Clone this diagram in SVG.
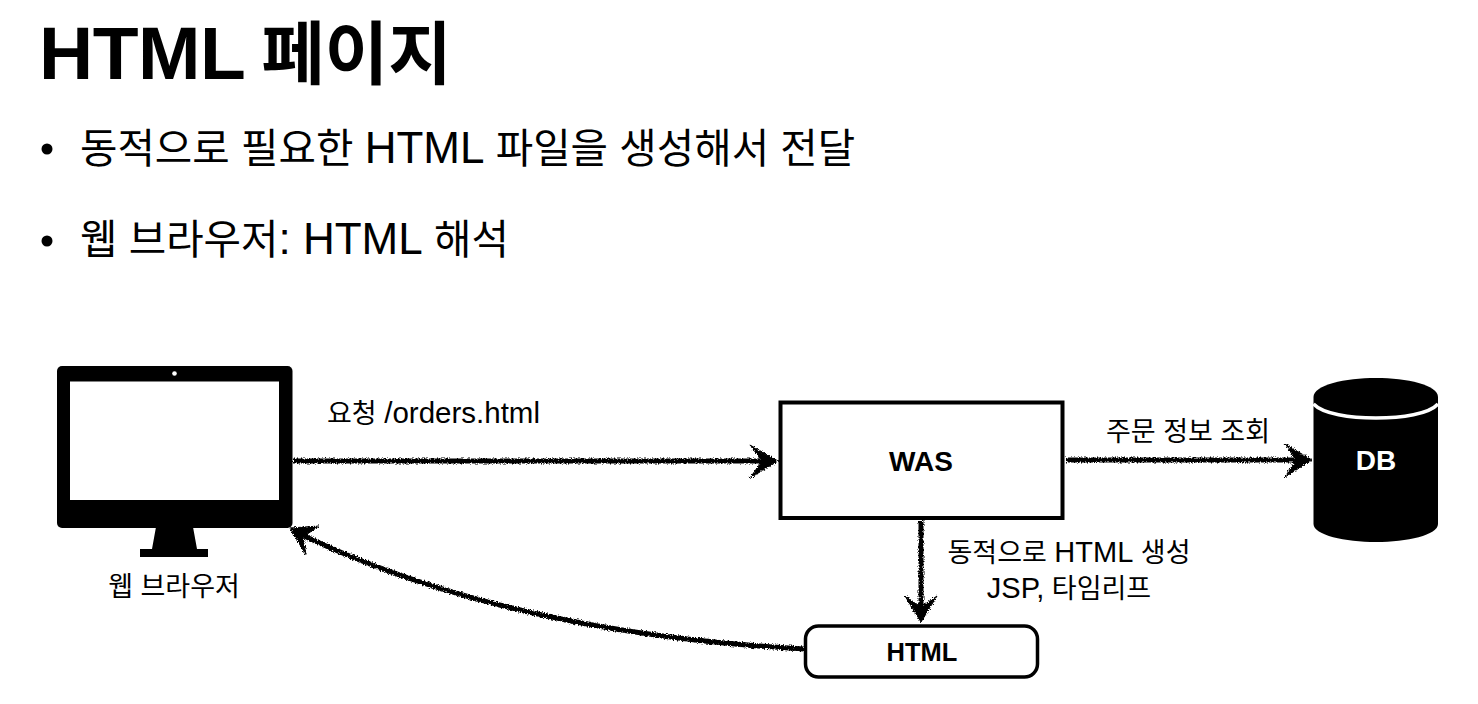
<svg xmlns="http://www.w3.org/2000/svg" width="1478" height="704" viewBox="0 0 1478 704">
<style>
text{font-family:"Liberation Sans","Noto Sans CJK KR",sans-serif;fill:#000}
.t{font-size:27px;text-anchor:middle}
.t .l{font-size:29px}
.t .o{font-size:29.500px}
.b{font-size:40.700px}
.b .l{font-size:44px}
.n{font-weight:bold;text-anchor:middle}
.c{fill:none;stroke:#000;stroke-width:5}
.h{fill:#000;stroke:#000;stroke-width:1}
</style>
<defs>
<filter id="rough" x="-5%" y="-20%" width="110%" height="140%" filterUnits="objectBoundingBox" color-interpolation-filters="sRGB">
<feTurbulence type="fractalNoise" baseFrequency="0.7" numOctaves="2" seed="4"/>
<feDisplacementMap in="SourceGraphic" scale="4.500" xChannelSelector="R" yChannelSelector="G"/>
</filter>
</defs>
<rect width="1478" height="704" fill="#fff"/>
<text id="title" x="39" y="79" font-size="75" font-weight="bold"><tspan letter-spacing="-0.5">HTML </tspan><tspan font-size="69" dx="-3">페이지</tspan></text>
<g id="bullets">
<circle cx="47" cy="149" r="5.500"/><text class="b" x="80" y="163">동적으로 필요한 <tspan class="l">HTML</tspan> 파일을 생성해서 전달</text>
<circle cx="47" cy="241" r="5.500"/><text class="b" x="80" y="254">웹 브라우저<tspan class="l">: HTML</tspan> 해석</text>
</g>
<g id="connectors" filter="url(#rough)">
<path class="c" d="M293 461H765"/><path class="h" d="M750 445L778 461L750 478L762 461Z"/>
<path class="c" d="M1066 460H1300"/><path class="h" d="M1285 444L1312 460L1285 477L1296 460Z"/>
<path class="c" d="M921 521V608"/><path class="h" d="M905 596L921 622L937 596L921 607Z"/>
<path class="c" d="M804 649C640 640 460 610 302 535"/><path class="h" d="M290 528L319 526L303 537L306 555Z"/>
</g>
<g id="browser">
<rect x="57" y="366" width="235.500" height="162" rx="5"/>
<rect x="70" y="381.500" width="209" height="118.500" fill="#fff"/>
<circle cx="174.500" cy="373.500" r="2.300" fill="#fff"/>
<path d="M156 527H193L197 549H208V557H140V549H152Z"/>
<text class="t" x="174" y="596">웹 브라우저</text>
</g>
<g id="was">
<rect x="780.500" y="402.500" width="282" height="115.500" fill="#fff" stroke="#000" stroke-width="4"/>
<text class="n" x="921" y="471" font-size="28">WAS</text>
</g>
<g id="html">
<rect x="805.500" y="626" width="232" height="51" rx="13" fill="#fff" stroke="#000" stroke-width="3.500"/>
<text class="n" x="922" y="661" font-size="25.500">HTML</text>
</g>
<g id="db">
<path d="M1313.500 397C1313.500 385 1345 378 1376 378S1438 385 1438 397V524C1438 535 1407 542 1376 542S1313.500 535 1313.500 524Z"/>
<path d="M1313.500 404C1323 414 1350 418 1376 418S1429 414 1438 404" fill="none" stroke="#fff" stroke-width="3.500"/>
<text class="n" x="1376" y="470" font-size="28" style="fill:#fff">DB</text>
</g>
<g id="labels">
<text class="t" x="433.500" y="423">요청 <tspan class="o">/orders.html</tspan></text>
<text class="t" x="1188" y="441">주문 정보 조회</text>
<text class="t" x="1069" y="562">동적으로 <tspan class="l">HTML</tspan> 생성</text>
<text class="t" x="1069" y="598"><tspan class="l">JSP,</tspan> 타임리프</text>
</g>
</svg>
